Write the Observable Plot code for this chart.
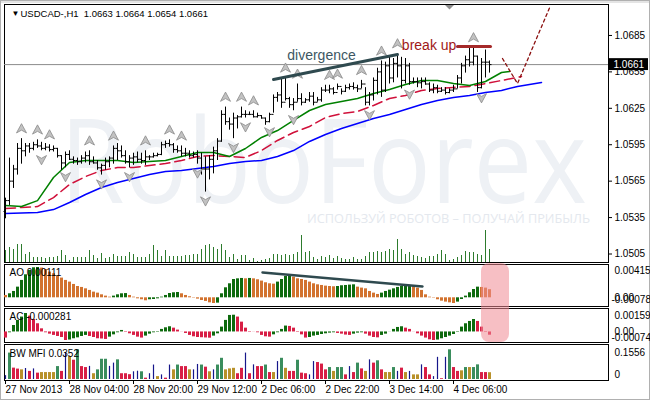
<!DOCTYPE html>
<html><head><meta charset="utf-8">
<script src="https://cdn.jsdelivr.net/npm/d3@7"></script>
<script src="https://cdn.jsdelivr.net/npm/@observablehq/plot@0.6"></script>
<style>
html,body{margin:0;padding:0;background:#fff;}
#chart{position:relative;width:650px;height:400px;overflow:hidden;background:#fff;}
#chart svg{position:absolute;left:0;top:0;}
</style></head><body><div id="chart"></div>
<script>
// ---------- DATA ----------
const symbolName = "USDCAD-,H1";
const xTickIndex = [0,16,32,48,64,80,96,112];
const xTickLabels = ["27 Nov 2013","28 Nov 04:00","28 Nov 20:00","29 Nov 12:00","2 Dec 06:00","2 Dec 22:00","3 Dec 14:00","4 Dec 06:00"];
const priceTicks = [1.0685,1.0655,1.0625,1.0595,1.0565,1.0535,1.0505];

const opens = [1.0540,1.0549,1.0565,1.0575,1.0592,1.0590,1.0594,1.0592,1.0595,1.0594,
1.0592,1.0593,1.0591,1.0592,1.0586,1.0580,1.0587,1.0583,1.0582,1.0581,
1.0584,1.0586,1.0581,1.0580,1.0576,1.0578,1.0581,1.0584,1.0592,1.0590,
1.0586,1.0581,1.0584,1.0585,1.0583,1.0582,1.0585,1.0585,1.0586,1.0587,
1.0595,1.0596,1.0595,1.0591,1.0590,1.0588,1.0588,1.0586,1.0587,1.0584,
1.0575,1.0575,1.0583,1.0590,1.0598,1.0620,1.0614,1.0612,1.0617,1.0618,
1.0620,1.0620,1.0620,1.0618,1.0619,1.0617,1.0614,1.0620,1.0634,1.0636,
1.0630,1.0633,1.0628,1.0630,1.0633,1.0630,1.0632,1.0635,1.0630,1.0632,
1.0640,1.0640,1.0641,1.0638,1.0643,1.0639,1.0642,1.0643,1.0642,1.0641,
1.0645,1.0630,1.0636,1.0648,1.0655,1.0640,1.0660,1.0650,1.0662,1.0660,
1.0648,1.0660,1.0647,1.0647,1.0646,1.0647,1.0645,1.0640,1.0642,1.0639,
1.0640,1.0638,1.0640,1.0641,1.0650,1.0660,1.0665,1.0663,1.0668,1.0642,
1.0663,1.0663];
const highs = [1.0551,1.0584,1.0578,1.0596,1.0600,1.0596,1.0596,1.0597,1.0599,1.0597,
1.0596,1.0595,1.0594,1.0592,1.0586,1.0589,1.0590,1.0585,1.0584,1.0586,
1.0589,1.0590,1.0585,1.0582,1.0579,1.0584,1.0585,1.0594,1.0596,1.0594,
1.0590,1.0586,1.0588,1.0589,1.0588,1.0590,1.0586,1.0588,1.0588,1.0597,
1.0598,1.0599,1.0596,1.0594,1.0594,1.0592,1.0590,1.0589,1.0590,1.0588,
1.0585,1.0586,1.0593,1.0600,1.0623,1.0626,1.0617,1.0621,1.0619,1.0626,
1.0623,1.0622,1.0623,1.0621,1.0619,1.0617,1.0621,1.0636,1.0638,1.0650,
1.0650,1.0634,1.0633,1.0645,1.0637,1.0633,1.0638,1.0638,1.0634,1.0642,
1.0644,1.0644,1.0642,1.0645,1.0641,1.0644,1.0645,1.0646,1.0644,1.0648,
1.0642,1.0638,1.0650,1.0658,1.0664,1.0663,1.0667,1.0666,1.0670,1.0667,
1.0666,1.0662,1.0650,1.0650,1.0650,1.0650,1.0646,1.0645,1.0644,1.0642,
1.0642,1.0641,1.0644,1.0652,1.0662,1.0668,1.0675,1.0675,1.0668,1.0666,
1.0673,1.0664];
const lows = [1.0534,1.0545,1.0559,1.0570,1.0579,1.0585,1.0588,1.0590,1.0592,1.0590,
1.0590,1.0589,1.0589,1.0584,1.0574,1.0576,1.0582,1.0579,1.0578,1.0579,
1.0580,1.0578,1.0579,1.0574,1.0570,1.0574,1.0576,1.0579,1.0582,1.0584,
1.0579,1.0576,1.0578,1.0580,1.0579,1.0578,1.0582,1.0584,1.0585,1.0586,
1.0592,1.0593,1.0588,1.0588,1.0585,1.0585,1.0584,1.0584,1.0579,1.0570,
1.0556,1.0566,1.0571,1.0582,1.0597,1.0611,1.0607,1.0600,1.0608,1.0617,
1.0617,1.0619,1.0617,1.0617,1.0616,1.0611,1.0613,1.0621,1.0630,1.0625,
1.0631,1.0625,1.0623,1.0630,1.0627,1.0629,1.0630,1.0627,1.0630,1.0630,
1.0638,1.0637,1.0636,1.0640,1.0636,1.0638,1.0640,1.0640,1.0638,1.0641,
1.0627,1.0627,1.0631,1.0636,1.0634,1.0638,1.0645,1.0646,1.0650,1.0641,
1.0645,1.0644,1.0645,1.0642,1.0641,1.0644,1.0638,1.0637,1.0637,1.0638,
1.0636,1.0637,1.0638,1.0641,1.0645,1.0654,1.0659,1.0660,1.0638,1.0641,
1.0650,1.0654];
const closes = [1.0549,1.0565,1.0575,1.0592,1.0590,1.0594,1.0592,1.0595,1.0594,1.0592,
1.0593,1.0591,1.0592,1.0586,1.0580,1.0587,1.0583,1.0582,1.0581,1.0584,
1.0586,1.0581,1.0580,1.0576,1.0578,1.0581,1.0584,1.0592,1.0590,1.0586,
1.0581,1.0584,1.0585,1.0583,1.0582,1.0585,1.0585,1.0586,1.0587,1.0595,
1.0596,1.0595,1.0591,1.0590,1.0588,1.0588,1.0586,1.0587,1.0584,1.0575,
1.0575,1.0583,1.0590,1.0598,1.0620,1.0614,1.0612,1.0617,1.0618,1.0620,
1.0620,1.0620,1.0618,1.0619,1.0617,1.0614,1.0620,1.0634,1.0636,1.0630,
1.0633,1.0628,1.0630,1.0633,1.0630,1.0632,1.0635,1.0630,1.0632,1.0640,
1.0640,1.0641,1.0638,1.0643,1.0639,1.0642,1.0643,1.0642,1.0641,1.0645,
1.0630,1.0636,1.0648,1.0655,1.0640,1.0660,1.0650,1.0662,1.0660,1.0648,
1.0660,1.0647,1.0647,1.0646,1.0647,1.0645,1.0640,1.0642,1.0639,1.0640,
1.0638,1.0640,1.0641,1.0650,1.0660,1.0665,1.0663,1.0668,1.0642,1.0663,
1.0663,1.0661];
const volumes = [1200,1500,1300,1800,1800,800,1000,500,500,500,
400,500,500,600,1200,700,200,500,500,500,
500,1200,700,400,900,400,500,800,600,600,
600,1000,800,500,500,500,800,1700,1200,600,
1200,600,600,600,600,700,700,800,800,1300,
1700,1800,1500,1300,1800,1200,500,800,300,700,
700,200,400,100,200,300,400,800,800,700,
800,700,800,1000,2700,1000,1100,500,300,600,
500,700,400,600,400,300,300,500,300,300,
600,1000,1000,1100,1000,1100,1300,1200,2300,1300,
800,1000,700,600,500,400,600,600,800,1200,
800,200,300,500,700,1100,1000,1000,800,700,
3200,1300];
// Alligator lines: [bar index, price]
const lips = [[0,1.05449],[4,1.05441],[8,1.0549],[12,1.0568],[16,1.05804],[20,1.0582],[24,1.0582],[28,1.0582],[32,1.05804],[36,1.05812],[40,1.0582],[44,1.05853],[48,1.05886],[52,1.05886],[56,1.05853],[60,1.05919],[64,1.0601],[68,1.06067],[72,1.0615],[76,1.06232],[80,1.06281],[84,1.06306],[88,1.06331],[92,1.06372],[96,1.06405],[100,1.06446],[104,1.06479],[108,1.06479],[112,1.06454],[116,1.06438],[120,1.06471],[124,1.06545],[126,1.06553]];
const teeth = [[0,1.05424],[4,1.05433],[8,1.05441],[12,1.05515],[16,1.05622],[20,1.05688],[24,1.05738],[28,1.05762],[32,1.05762],[36,1.05779],[40,1.05795],[44,1.0582],[48,1.05853],[52,1.05861],[56,1.05853],[60,1.05845],[64,1.05902],[68,1.05985],[72,1.06051],[76,1.061],[80,1.06174],[84,1.06207],[88,1.06224],[92,1.06273],[96,1.06331],[100,1.06356],[104,1.06397],[108,1.06413],[112,1.06422],[116,1.0643],[120,1.06454],[124,1.06479],[129,1.06512]];
const jaw = [[0,1.05383],[8,1.05392],[12,1.05416],[16,1.05474],[20,1.0554],[24,1.05598],[28,1.05639],[32,1.05672],[36,1.05705],[40,1.05729],[44,1.05738],[48,1.05754],[52,1.05771],[56,1.05795],[60,1.05812],[64,1.0582],[68,1.05853],[72,1.05902],[76,1.05977],[80,1.06034],[84,1.06084],[88,1.06125],[92,1.06166],[96,1.06199],[100,1.0624],[104,1.06281],[108,1.06314],[112,1.06339],[116,1.06356],[120,1.0638],[124,1.06397],[128,1.0643],[134,1.06463]];
const upFractals = [4,8,11,21,27,35,41,44,55,59,62,70,73,81,83,89,94,98,117];
const downFractals = [9,15,24,31,48,50,57,60,66,72,91,101,119];
// annotations
const divergencePrice = [[67,1.06487],[98,1.06693]];
const divergenceAO = [[64.25,0.00347],[104.25,0.00155]];
const breakLevel = [[113,1.06759],[121.25,1.06759]];
const forecast = [[124.25,1.0666],[128,1.06454],[136.25,1.07097]];
const highlightBars = [119,126];

const aoValues = [0.00032,0.00055,0.00087,0.00146,0.00238,0.00315,0.00375,0.00411,0.00415,0.00407,
0.00388,0.00352,0.00329,0.00297,0.0027,0.00238,0.00215,0.00183,0.00155,0.00142,
0.00123,0.00101,0.00078,0.00064,0.00041,0.00023,0.00009,0.00023,0.00041,0.00055,
0.00058,0.00032,0.00009,-0.00014,-0.00027,-0.00041,-0.00027,-0.00023,-0.00014,0.00009,
0.00032,0.00059,0.00069,0.00073,0.00055,0.00032,0.00014,-0.00005,-0.00018,-0.00037,
-0.0005,-0.00069,-0.00078,-0.00073,0.00055,0.00137,0.00192,0.00251,0.0026,0.00265,
0.0026,0.00265,0.0026,0.00247,0.00229,0.00206,0.00192,0.00187,0.00215,0.00251,
0.00292,0.00306,0.00283,0.0026,0.00251,0.00238,0.00215,0.00192,0.00178,0.00169,
0.0016,0.00155,0.00151,0.00155,0.00165,0.00169,0.00174,0.00178,0.00146,0.00133,
0.00123,0.00087,0.00064,0.00046,0.00064,0.00087,0.00105,0.00123,0.00142,0.00155,
0.00165,0.00169,0.00155,0.00133,0.00101,0.00041,0.00009,-0.00005,-0.00027,-0.00046,
-0.00059,-0.00069,-0.00078,-0.00059,-0.00023,0.00023,0.00069,0.00114,0.00146,0.00142,
0.00133,0.00111];
const aoLabels = [0.00415, 0, -0.00078];
const acValues = [-0.00053,-0.00007,0.00056,0.001,0.00129,0.001598,0.00137,0.00108,0.00071,0.00027,
-0.00007,-0.00019,-0.0003,-0.00039,-0.00048,-0.00074,-0.0007,-0.00059,-0.00051,-0.00039,
-0.0003,-0.00039,-0.00048,-0.00059,-0.00061,-0.00065,-0.00045,-0.00025,-0.00007,0.00013,
0.00004,-0.00016,-0.0003,-0.00045,-0.00053,-0.00036,-0.00019,-0.00007,0.00004,0.00022,
0.00036,0.00045,0.00033,0.00016,-0.00001,-0.00013,-0.0003,-0.00042,-0.00048,-0.0005,
-0.00052,-0.00054,-0.00036,-0.00016,0.00042,0.001,0.00143,0.00145,0.00129,0.00085,
0.00033,0.00004,-0.00001,-0.00007,-0.0003,-0.00042,-0.00045,-0.00025,-0.00007,0.00022,
0.00051,0.00048,0.00033,0.00004,-0.00025,-0.00053,-0.00048,-0.00036,-0.0003,-0.00022,
-0.00016,-0.0001,-0.00007,-0.00013,-0.00019,-0.00027,-0.0003,-0.00019,-0.0001,-0.00007,
-0.00019,-0.00036,-0.00048,-0.00051,-0.0003,-0.00019,-0.00001,0.00022,0.00039,0.00045,
0.00033,0.00022,-0.00001,-0.00016,-0.00036,-0.00053,-0.00068,-0.00074,-0.0007,-0.00059,
-0.00048,-0.00036,-0.00022,0.00004,0.00042,0.00071,0.00091,0.00108,0.00091,0.00042,
0.00004,-0.000281];
const acLabels = [0.001598, 0, -0.00074];
const mfiValues = [0.02,0.137,0.059,0.054,0.05,0.057,0.042,0.055,0.033,0.036,
0.036,0.036,0.036,0.067,0.042,0.137,0.119,0.1,0.154,0.067,
0.062,0.068,0.03,0.05,0.105,0.105,0.068,0.085,0.102,0.03,
0.03,0.025,0.04,0.043,0.04,0.007,0.03,0.075,0.015,0.024,
0.007,0.075,0.05,0.075,0.067,0.067,0.05,0.05,0.078,0.075,
0.064,0.04,0.05,0.075,0.11,0.05,0.055,0.058,0.03,0.058,
0.137,0.03,0.076,0.067,0.067,0.075,0.036,0.036,0.093,0.11,
0.058,0.042,0.042,0.1,0.033,0.03,0.024,0.093,0.088,0.08,
0.05,0.062,0.042,0.062,0.062,0.024,0.067,0.036,0.085,0.055,
0.042,0.102,0.085,0.097,0.05,0.036,0.036,0.062,0.042,0.059,
0.036,0.042,0.024,0.024,0.076,0.062,0.024,0.015,0.115,0.004,
0.115,0.154,0.062,0.042,0.045,0.062,0.062,0.062,0.076,0.036,
0.036,0.0352];
// g = green, b = fade, r = squat, n = fake
const mfiKinds = ("n g r r b n r n r b " + "b b b g r n b r g r " + "r n b g g g n n g r " +
"r r n n g r n n b n " + "r n b g r r b n n g " + "r b n g g b b b r r " + "n r n r r g r b n g " +
"b r r g r r n n r r " + "r g b g g r n r g r " + "b n r g r b b g n r " + "b n b b n r r n n r " +
"n g r r b g b g g r " + "r b").trim().split(/\s+/);
const mfiLabels = [0.1556, 0];

// ---------- DRAWING ----------
const FONT = "'Liberation Sans', Arial, sans-serif";
const chart = document.getElementById("chart");
const X = {type: "linear", domain: [-0.25, 150.75], range: [4, 608]};
const M = {marginLeft: 4, marginRight: 42};
const bars = highs.map((h, i) => ({i, o: opens[i], h, l: lows[i], c: closes[i], v: volumes[i]}));
const last = bars[bars.length - 1];
const pairs = a => a.map(([i, v]) => ({i, v}));
function layer(opts) {
  const svg = Plot.plot({width: 650, height: 400, ...M, ...opts,
    style: {background: "transparent", fontFamily: FONT, fontSize: "10px", overflow: "visible"}});
  chart.appendChild(svg);
  return svg;
}
const arrowUp = {draw(ctx, size) { const s = Math.sqrt(size / Math.PI);
  ctx.moveTo(0, -s); ctx.lineTo(s, s * 0.85); ctx.lineTo(0, s * 0.3); ctx.lineTo(-s, s * 0.85); ctx.closePath(); }};
const arrowDown = {draw(ctx, size) { const s = Math.sqrt(size / Math.PI);
  ctx.moveTo(0, s); ctx.lineTo(s, -s * 0.85); ctx.lineTo(0, -s * 0.3); ctx.lineTo(-s, -s * 0.85); ctx.closePath(); }};

// 1. background: watermark + volumes
const bg = layer({marginTop: 4, marginBottom: 138, x: {...X, axis: null},
  y: {domain: [0, 3200], range: [262, 230], axis: null},
  marks: [
    Plot.ruleX(bars, {x: "i", y1: 0, y2: "v", stroke: "#2d7b2d"})
  ]});
{
  const s = d3.select(bg);
  s.insert("text", ":first-child").attr("transform", "translate(60,203) scale(1,1.14)").attr("text-anchor", "start")
    .attr("font-family", "'Open Sans', sans-serif").attr("font-size", 102).attr("fill", "#eef1f5")
    .attr("textLength", 527).attr("lengthAdjust", "spacingAndGlyphs").text("RoboForex");
  s.insert("text", ":first-child").attr("x", 307).attr("y", 223).attr("text-anchor", "start").attr("font-family", "'Open Sans', sans-serif")
    .attr("font-size", 12.5).attr("fill", "#e4e8ee").attr("textLength", 283).attr("lengthAdjust", "spacingAndGlyphs").text("ИСПОЛЬЗУЙ РОБОТОВ – ПОЛУЧАЙ ПРИБЫЛЬ");
  s.insert("rect", ":first-child").attr("x", 0).attr("y", 0).attr("width", 650).attr("height", 3).attr("fill", "#e4e4e4");
  s.append("rect").attr("x", 0.5).attr("y", 0.5).attr("width", 649).attr("height", 399).attr("fill", "none").attr("stroke", "#b0b0b0");
}

// 2. price panel
const pricePanel = layer({marginTop: 4, marginBottom: 138, x: {...X, axis: null},
  y: {domain: [1.04980, 1.07105], range: [262, 4]},
  marks: [
    Plot.frame({stroke: "#000"}),
    Plot.ruleY([last.c], {stroke: "#8c8c8c"}),
    Plot.line(pairs(jaw), {x: "i", y: "v", stroke: "#0000ff"}),
    Plot.line(pairs(teeth), {x: "i", y: "v", stroke: "#d0103a", strokeDasharray: "10,5"}),
    Plot.line(pairs(lips), {x: "i", y: "v", stroke: "#008000"}),
    Plot.ruleX(bars, {x: "i", y1: "l", y2: "h", stroke: "#000"}),
    Plot.link(bars, {x1: d => d.i - 0.5, x2: "i", y1: "o", y2: "o", stroke: "#000"}),
    Plot.link(bars, {x1: "i", x2: d => d.i + 0.5, y1: "c", y2: "c", stroke: "#000"}),
    Plot.dot(upFractals.map(i => bars[i]), {x: "i", y: "h", dy: -10, r: 5, symbol: arrowUp, fill: "#c2c2c2", stroke: "#8a8a8a", strokeWidth: 0.8}),
    Plot.dot(downFractals.map(i => bars[i]), {x: "i", y: "l", dy: 9, r: 5, symbol: arrowDown, fill: "#c2c2c2", stroke: "#8a8a8a", strokeWidth: 0.8}),
    Plot.line(pairs(divergencePrice), {x: "i", y: "v", stroke: "#2f4a4f", strokeWidth: 3}),
    Plot.text(["divergence"], {x: 79, y: 1.06685, fontSize: 14, fill: "#3d5763"}),
    Plot.line(pairs(breakLevel), {x: "i", y: "v", stroke: "#a52a2a", strokeWidth: 3}),
    Plot.text(["break up"], {x: 105.9, y: 1.06768, fontSize: 14, fill: "#a01818"}),
    Plot.line(pairs(forecast), {x: "i", y: "v", stroke: "#8b1010", strokeWidth: 1.3, strokeDasharray: "3,3"}),
    Plot.axisY(priceTicks, {anchor: "right", tickSize: 3, tickPadding: 3, tickFormat: d => d.toFixed(4), fontSize: 10, label: null}),
    Plot.rect([last], {x1: 151, x2: 160.75, y1: d => d.c - 0.00049, y2: d => d.c + 0.00049, fill: "#000"}),
    Plot.text([last], {frameAnchor: "right", y: "c", text: d => d.c.toFixed(4), dx: 5, textAnchor: "start", fill: "#fff", fontSize: 10}),
    Plot.text(["▼"], {frameAnchor: "top-left", dx: 7, dy: 9, lineAnchor: "middle", textAnchor: "start", fontSize: 8}),
    Plot.text([last], {frameAnchor: "top-left", dx: 16, dy: 9, lineAnchor: "middle", textAnchor: "start", fontSize: 9.5,
      text: d => `${symbolName}\u00a0\u00a0${d.o.toFixed(4)} ${d.h.toFixed(4)} ${d.l.toFixed(4)} ${d.c.toFixed(4)}`})
  ]});
d3.select(pricePanel).append("path").attr("d", "M445,5 L454,5 L449.5,9.5 Z").attr("fill", "#8f8f8f");

// 3. AO panel
const aoData = aoValues.map((v, i) => ({i, v, up: i > 0 && v > aoValues[i - 1]}));
layer({marginTop: 264, marginBottom: 94, x: {...X, axis: null},
  y: {domain: [-0.00078, 0.00415], range: [303, 267], axis: null},
  marks: [
    Plot.frame({stroke: "#000"}),
    Plot.ruleX(aoData, {x: "i", y1: 0, y2: "v", strokeWidth: 3, stroke: d => d.up ? "#0d6a0d" : "#d2722e"}),
    Plot.line(pairs(divergenceAO), {x: "i", y: "v", stroke: "#2f4a4f", strokeWidth: 2.5}),
    Plot.text([aoValues[aoValues.length - 1]], {frameAnchor: "top-left", dx: 5, dy: 8, lineAnchor: "middle", textAnchor: "start", text: d => `AO ${d.toFixed(5)}`, fontSize: 10}),
    Plot.text([aoLabels[0]], {frameAnchor: "right", y: d => d, text: d => d.toFixed(5), dx: 6, dy: 3, textAnchor: "start", fontSize: 10}),
    Plot.text([aoLabels[1]], {frameAnchor: "right", y: d => d, text: d => d.toFixed(2), dx: 6, textAnchor: "start", fontSize: 10}),
    Plot.text([aoLabels[2]], {frameAnchor: "right", y: d => d, text: d => d.toFixed(5), dx: 3, dy: -4, textAnchor: "start", fontSize: 10})
  ]});

// 4. AC panel
const acData = acValues.map((v, i) => ({i, v, up: i > 0 && v > acValues[i - 1]}));
layer({marginTop: 308, marginBottom: 58, x: {...X, axis: null},
  y: {domain: [-0.00074, 0.001598], range: [340, 313], axis: null},
  marks: [
    Plot.frame({stroke: "#000"}),
    Plot.ruleX(acData, {x: "i", y1: 0, y2: "v", strokeWidth: 3, stroke: d => d.up ? "#0d6a0d" : "#d81e45"}),
    Plot.text([acValues[acValues.length - 1]], {frameAnchor: "top-left", dx: 5, dy: 8, lineAnchor: "middle", textAnchor: "start", text: d => `AC ${d.toFixed(6)}`, fontSize: 10}),
    Plot.text([acLabels[0]], {frameAnchor: "right", y: d => d, text: d => d.toFixed(6), dx: 6, dy: 2, textAnchor: "start", fontSize: 10}),
    Plot.text([acLabels[1]], {frameAnchor: "right", y: d => d, text: d => d.toFixed(2), dx: 6, textAnchor: "start", fontSize: 10}),
    Plot.text([acLabels[2]], {frameAnchor: "right", y: d => d, text: d => d.toFixed(5), dx: 3, dy: -3, textAnchor: "start", fontSize: 10})
  ]});

// 5. BW MFI panel + time axis
const mfiColor = {g: "#3a8d5d", b: "#b8912a", r: "#d81e45", n: "#16168a"};
const mfiData = mfiValues.map((v, i) => ({i, v, k: mfiKinds[i]}));
layer({marginTop: 344, marginBottom: 20, x: X,
  y: {domain: [0, 0.1556], range: [379, 349], axis: null},
  marks: [
    Plot.frame({stroke: "#000"}),
    Plot.ruleX(mfiData.filter(d => d.k !== "n"), {x: "i", y1: 0, y2: "v", strokeWidth: 3, stroke: d => mfiColor[d.k]}),
    Plot.ruleX(mfiData.filter(d => d.k === "n"), {x: "i", y1: 0, y2: "v", strokeWidth: 1.2, stroke: d => mfiColor[d.k]}),
    Plot.text([mfiValues[mfiValues.length - 1]], {frameAnchor: "top-left", dx: 5, dy: 9, lineAnchor: "middle", textAnchor: "start", text: d => `BW MFI ${d.toFixed(4)}`, fontSize: 10}),
    Plot.text([mfiLabels[0]], {frameAnchor: "right", y: d => d, text: d => d.toFixed(4), dx: 6, dy: 3, textAnchor: "start", fontSize: 10}),
    Plot.text([mfiLabels[1]], {frameAnchor: "right", y: d => d, text: d => String(d), dx: 6, dy: -5, textAnchor: "start", fontSize: 10}),
    Plot.axisX(xTickIndex, {anchor: "bottom", tickSize: 4, tickPadding: 1, textAnchor: "start", dx: 0, fontSize: 10, label: null,
      tickFormat: d => xTickLabels[xTickIndex.indexOf(d)]})
  ]});

// 6. highlight overlay across AO/AC
layer({marginTop: 0, marginBottom: 0, x: {...X, axis: null},
  y: {domain: [0, 400], range: [0, 400], axis: null},
  marks: [
    Plot.rect([highlightBars], {x1: d => d[0], x2: d => d[1], y1: 263, y2: 342, fill: "#f08a94", fillOpacity: 0.55, rx: 8})
  ]});
</script></body></html>
